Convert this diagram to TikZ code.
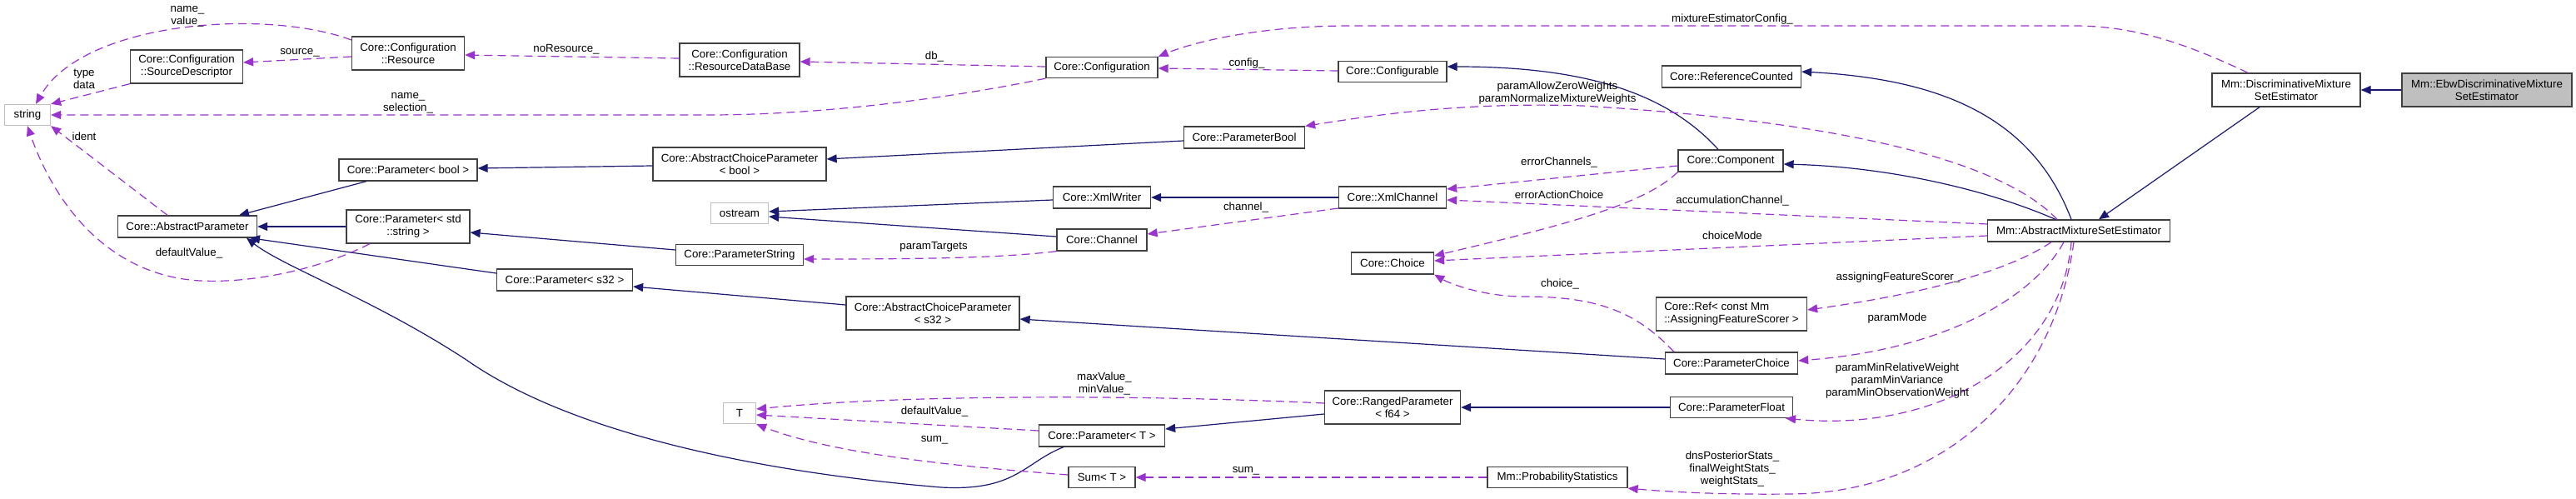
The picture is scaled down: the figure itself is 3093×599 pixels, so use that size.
\documentclass[tikz,border=0pt]{standalone}
\usepackage{fontspec}
\setmainfont{Liberation Sans}
\usetikzlibrary{arrows.meta}

\definecolor{navy}{HTML}{191970}
\definecolor{orchid}{HTML}{9A32CD}

\begin{document}
\begin{tikzpicture}[x=1pt, y=-1pt,
    cls/.style={rectangle, draw=black!75, line width=1.3pt, fill=white, minimum height=26pt, inner sep=2pt, align=center, font=\fontsize{13.3}{15}\selectfont},
    ext/.style={cls, draw=black!25},
    inherit/.style={-{Triangle[length=12pt,width=10pt]}, color=navy, line width=1.2pt},
    member/.style={-{Triangle[length=12pt,width=10pt]}, color=orchid, line width=1.2pt, dash pattern=on 10pt off 6pt},
    lbl/.style={align=center, inner sep=0pt, font=\fontsize{13.3}{15}\selectfont}]

    \useasboundingbox (0,0) rectangle (3093,599);

    % 节点
    \node[ext, minimum width=55pt, minimum height=25pt] (str) at (33,138) {string};
    \node[cls, minimum width=135pt, minimum height=40pt] (sdesc) at (224,80) {Core::Configuration\\::SourceDescriptor};
    \node[cls, minimum width=135pt, minimum height=40pt] (res) at (490,64) {Core::Configuration\\::Resource};
    \node[cls, minimum width=144pt, minimum height=40pt] (rdb) at (888,72) {Core::Configuration\\::ResourceDataBase};
    \node[cls, minimum width=134pt, minimum height=25pt] (conf) at (1323,81) {Core::Configuration};
    \node[cls, minimum width=130pt, minimum height=25pt] (cfgable) at (1672,86) {Core::Configurable};
    \node[cls, minimum width=167pt] (refc) at (2079,92) {Core::ReferenceCounted};
    \node[cls, minimum width=178pt, minimum height=40pt] (disc) at (2745,108) {Mm::DiscriminativeMixture\\SetEstimator};
    \node[cls, minimum width=204pt, minimum height=40pt, fill=black!25] (ebw) at (2986,108) {Mm::EbwDiscriminativeMixture\\SetEstimator};
    \node[cls, minimum width=166pt] (pbool) at (490,204) {Core::Parameter< bool >};
    \node[cls, minimum width=208pt, minimum height=40pt] (acpbool) at (888,197) {Core::AbstractChoiceParameter\\< bool >};
    \node[cls, minimum width=145pt] (parbool) at (1494,165) {Core::ParameterBool};
    \node[cls, minimum width=126pt] (comp) at (2078,193) {Core::Component};
    \node[ext, minimum width=69pt, minimum height=25pt] (ostr) at (888,256) {ostream};
    \node[cls, minimum width=117pt] (xmlw) at (1323,237) {Core::XmlWriter};
    \node[cls, minimum width=129pt] (xmlc) at (1672,237) {Core::XmlChannel};
    \node[cls, minimum width=219pt] (amse) at (2496,277) {Mm::AbstractMixtureSetEstimator};
    \node[cls, minimum width=167pt] (apar) at (225,272) {Core::AbstractParameter};
    \node[cls, minimum width=148pt, minimum height=40pt] (pstr) at (490,272) {Core::Parameter< std\\::string >};
    \node[cls, minimum width=108pt] (chan) at (1323,288) {Core::Channel};
    \node[cls, minimum width=153pt, minimum height=25pt] (parstr) at (888,306) {Core::ParameterString};
    \node[cls, minimum width=99pt] (choice) at (1672,316) {Core::Choice};
    \node[cls, minimum width=163pt] (ps32) at (678,336) {Core::Parameter< s32 >};
    \node[cls, minimum width=208pt, minimum height=40pt] (acps32) at (1120,376) {Core::AbstractChoiceParameter\\< s32 >};
    \node[cls, minimum width=181pt, minimum height=40pt, align=left] (ref) at (2079,377) {Core::Ref< const Mm\\::AssigningFeatureScorer >};
    \node[cls, minimum width=159pt] (pchoice) at (2079,436) {Core::ParameterChoice};
    \node[ext, minimum width=39pt, minimum height=25pt] (T) at (888,496) {T};
    \node[cls, minimum width=163pt, minimum height=40pt] (rng) at (1672,489) {Core::RangedParameter\\< f64 >};
    \node[cls, minimum width=147pt, minimum height=25pt] (pfloat) at (2079,489) {Core::ParameterFloat};
    \node[cls, minimum width=151pt] (parT) at (1323,523) {Core::Parameter< T >};
    \node[cls, minimum width=80pt, minimum height=25pt] (sumT) at (1323,573) {Sum< T >};
    \node[cls, minimum width=168pt, minimum height=25pt] (pstats) at (1870,573) {Mm::ProbabilityStatistics};

    % 继承
    \draw[inherit] (ebw.west) -- (disc.east);
    \draw[inherit] (2713,0 |- disc.south) -- (2520,0 |- amse.north);
    \draw[inherit] (2468,0 |- amse.north) .. controls (2380,225) and (2260,200) .. (comp.east |- 0,197);
    \draw[inherit] (2487,0 |- amse.north) .. controls (2440,140) and (2330,95) .. (refc.east |- 0,86);
    \draw[inherit] (2063,0 |- comp.north) .. controls (2000,110) and (1900,80) .. (cfgable.east |- 0,80);
    \draw[inherit] (xmlc.west) -- (xmlw.east);
    \draw[inherit] (xmlw.west |- 0,240) -- (ostr.east |- 0,254);
    \draw[inherit] (chan.west |- 0,284) -- (ostr.east |- 0,260);
    \draw[inherit] (parbool.west |- 0,169) -- (acpbool.east |- 0,191);
    \draw[inherit] (acpbool.west |- 0,199) -- (pbool.east |- 0,202);
    \draw[inherit] (440,0 |- pbool.south) -- (287,0 |- apar.north);
    \draw[inherit] (pstr.west) -- (apar.east);
    \draw[inherit] (parstr.west |- 0,300) -- (pstr.east |- 0,279);
    \draw[inherit] (ps32.west |- 0,328) -- (300,0 |- apar.south);
    \draw[inherit] (acps32.west |- 0,366) -- (ps32.east |- 0,344);
    \draw[inherit] (pchoice.west |- 0,431) -- (acps32.east |- 0,383);
    \draw[inherit] (pfloat.west) -- (rng.east);
    \draw[inherit] (rng.west |- 0,497) -- (parT.east |- 0,515);
    \draw[inherit] (1277,0 |- parT.south) .. controls (1230,555) and (1220,590) .. (1130,585)
        .. controls (950,570) and (700,530) .. (560,432) .. controls (450,360) and (340,320) .. (296,0 |- apar.south);

    % 成员
    \draw[member] (sdesc.south west) -- (str.north east);
    \draw[member] (res.north west |- 0,48) .. controls (320,10) and (100,25) .. (43,0 |- str.north);
    \draw[member] (res.west |- 0,68) -- (sdesc.east |- 0,75);
    \draw[member] (rdb.west |- 0,70) -- (res.east |- 0,66);
    \draw[member] (conf.west |- 0,80) -- (rdb.east |- 0,74);
    \draw[member] (conf.south west) .. controls (1130,120) and (980,138) .. (850,138) -- (str.east);
    \draw[member] (cfgable.west |- 0,85) -- (conf.east |- 0,82);
    \draw[member] (2699,0 |- disc.north) .. controls (2620,50) and (2560,31) .. (2490,31) -- (1620,31)
        .. controls (1520,31) and (1440,48) .. (conf.north east);
    \draw[member] (2470,0 |- amse.north) .. controls (2400,190) and (2200,145) .. (1900,127)
        .. controls (1750,122) and (1640,140) .. (parbool.north east);
    \draw[member] (comp.west |- 0,199) -- (xmlc.east |- 0,227);
    \draw[member] (amse.west |- 0,269) -- (xmlc.east |- 0,240);
    \draw[member] (xmlc.west |- 0,250) -- (chan.east |- 0,281);
    \draw[member] (comp.south west) .. controls (1975,245) and (1880,270) .. (choice.east |- 0,307);
    \draw[member] (amse.west |- 0,283) -- (choice.east |- 0,313);
    \draw[member] (2010,0 |- pchoice.north) .. controls (1965,375) and (1920,356) .. (1830,356)
        .. controls (1780,356) and (1740,340) .. (choice.south east);
    \draw[member] (2463,0 |- amse.south) .. controls (2420,320) and (2330,350) .. (ref.east |- 0,372);
    \draw[member] (2478,0 |- amse.south) .. controls (2440,360) and (2330,420) .. (pchoice.east |- 0,433);
    \draw[member] (2487,0 |- amse.south) .. controls (2475,430) and (2330,520) .. (2144,0 |- pfloat.south);
    \draw[member] (2490,0 |- amse.south) .. controls (2465,470) and (2330,592) .. (2150,593)
        .. controls (2060,594) and (2000,590) .. (pstats.south east);
    \draw[member] (pstats.west) -- (sumT.east);
    \draw[member] (sumT.west |- 0,570) .. controls (1150,560) and (1000,545) .. (T.south east);
    \draw[member] (parT.west |- 0,517) -- (T.east |- 0,498);
    \draw[member] (rng.west |- 0,484) .. controls (1400,475) and (1100,472) .. (T.east |- 0,491);
    \draw[member] (chan.south west) .. controls (1200,310) and (1100,311) .. (parstr.east |- 0,311);
    \draw[member] (444,0 |- pstr.south) .. controls (380,325) and (300,340) .. (240,337)
        .. controls (120,330) and (60,230) .. (str.south);
    \draw[member] (201,0 |- apar.north) -- (str.south east);

    % 标注
    \node[lbl] (lnameval) at (225,20) {name\_\\value\_};
    \node[lbl] (ltype) at (101,95) {type\\data};
    \node[lbl] (lsource) at (360,63) {source\_};
    \node[lbl] (lnores) at (680,59) {noResource\_};
    \node[lbl] (lnamesel) at (490,124) {name\_\\selection\_};
    \node[lbl] (lident) at (101,164) {ident};
    \node[lbl] (ldefval) at (227,304) {defaultValue\_};
    \node[lbl] (ldb) at (1122,68) {db\_};
    \node[lbl] (lconfig) at (1497,76) {config\_};
    \node[lbl] (lmixconf) at (2080,23) {mixtureEstimatorConfig\_};
    \node[lbl] (lallow) at (1870,112) {paramAllowZeroWeights\\paramNormalizeMixtureWeights};
    \node[lbl] (lerrch) at (1872,195) {errorChannels\_};
    \node[lbl] (lerract) at (1872,234) {errorActionChoice};
    \node[lbl] (laccum) at (2080,241) {accumulationChannel\_};
    \node[lbl] (lchannel) at (1496,249) {channel\_};
    \node[lbl] (lchoicemode) at (2080,283) {choiceMode};
    \node[lbl] (ltargets) at (1121,296) {paramTargets};
    \node[lbl] (lchoice) at (1873,341) {choice\_};
    \node[lbl] (lassign) at (2279,333) {assigningFeatureScorer\_};
    \node[lbl] (lparammode) at (2278,382) {paramMode};
    \node[lbl] (lparammin) at (2278,457) {paramMinRelativeWeight\\paramMinVariance\\paramMinObservationWeight};
    \node[lbl] (lmaxmin) at (1326,460) {maxValue\_\\minValue\_};
    \node[lbl] (ldefT) at (1122,494) {defaultValue\_};
    \node[lbl] (lsumT) at (1122,528) {sum\_};
    \node[lbl] (lsumstats) at (1496,565) {sum\_};
    \node[lbl] (lstats) at (2080,563) {dnsPosteriorStats\_\\finalWeightStats\_\\weightStats\_};
\end{tikzpicture}
\end{document}
